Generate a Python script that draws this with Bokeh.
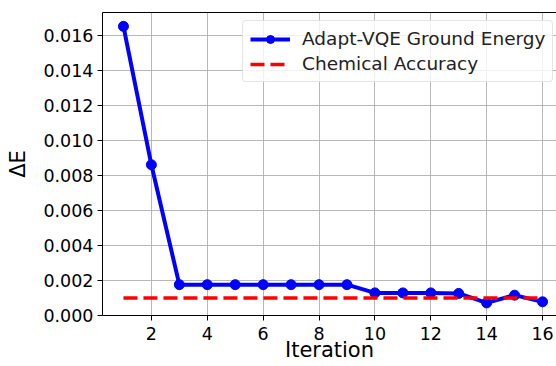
from bokeh.plotting import figure
from bokeh.models import (FixedTicker, PrintfTickFormatter, Range1d, Legend, LegendItem,
                          LinearAxis)
from bokeh.embed import file_html
from bokeh.resources import INLINE

iterations = [1, 2, 3, 4, 5, 6, 7, 8, 9, 10, 11, 12, 13, 14, 15, 16]
delta_e = [0.0165, 0.0086, 0.00176, 0.00176, 0.00176, 0.00176, 0.00176, 0.00176, 0.00176,
           0.00129, 0.00129, 0.00129, 0.00126, 0.00072, 0.00116, 0.00078]
chem_acc_x = [1, 16]
chem_acc_y = [0.001, 0.001]
x_ticks = [2, 4, 6, 8, 10, 12, 14, 16]
y_ticks = [0.0, 0.002, 0.004, 0.006, 0.008, 0.010, 0.012, 0.014, 0.016]

FONT = "DejaVu Sans"

p = figure(width=556, height=366, output_backend="svg", toolbar_location=None,
           x_range=Range1d(0.25, 16.5), y_range=Range1d(0.0, 0.01729),
           min_border_left=102, min_border_right=0, min_border_top=12, min_border_bottom=51)

p.outline_line_color = None
p.background_fill_color = "white"
p.border_fill_color = "white"

l1 = p.line(iterations, delta_e, line_color="#0000ff", line_width=4)
c1 = p.scatter(iterations, delta_e, size=10, fill_color="#0000ff", line_color="#0000ff")
l2 = p.line(chem_acc_x, chem_acc_y, line_color="#ff0000", line_width=3.5, line_dash="14 6")

legend = Legend(items=[LegendItem(label="Adapt-VQE Ground Energy", renderers=[l1, c1]),
                       LegendItem(label="Chemical Accuracy", renderers=[l2])],
                location=(140, 233))
legend.label_text_font = FONT
legend.label_text_font_size = "18.5px"
legend.label_text_color = "#222222"
legend.glyph_width = 40
legend.glyph_height = 20
legend.label_standoff = 12
legend.spacing = 4
legend.padding = 7
legend.margin = 0
legend.border_line_color = "#cccccc"
legend.border_line_width = 1
legend.border_radius = 4
legend.background_fill_alpha = 0.8
p.add_layout(legend)

top_axis = LinearAxis(ticker=FixedTicker(ticks=[]), major_label_text_color=None,
                      major_tick_line_color=None, minor_tick_line_color=None,
                      axis_line_color="black", axis_line_width=1, major_label_standoff=0)
p.add_layout(top_axis, "above")

p.xaxis.ticker = FixedTicker(ticks=x_ticks)
p.yaxis.ticker = FixedTicker(ticks=y_ticks)
p.yaxis.formatter = PrintfTickFormatter(format="%.3f")
p.xaxis.minor_tick_line_color = None
p.yaxis.minor_tick_line_color = None

for ax in (p.below[0], p.left[0]):
    ax.major_label_text_font = FONT
    ax.major_label_text_font_size = "17.5px"
    ax.major_label_text_color = "black"
    ax.axis_label_text_font = FONT
    ax.axis_label_text_font_size = "21px"
    ax.axis_label_text_font_style = "normal"
    ax.axis_label_text_color = "black"
    ax.major_tick_out = 5
    ax.major_tick_in = 0
    ax.axis_line_color = "black"
    ax.major_tick_line_color = "black"
    ax.major_label_standoff = 4

p.below[0].axis_label = "Iteration"
p.below[0].major_label_standoff = 6
p.below[0].axis_label_standoff = -5
p.left[0].axis_label = "ΔE"
p.left[0].axis_label_standoff = 10

p.xgrid.ticker = FixedTicker(ticks=x_ticks)
p.ygrid.ticker = FixedTicker(ticks=y_ticks)
p.grid.grid_line_color = "#b0b0b0"
p.grid.grid_line_width = 1
p.grid.grid_line_alpha = 0.9

open("out.html", "w").write(file_html(p, INLINE))
